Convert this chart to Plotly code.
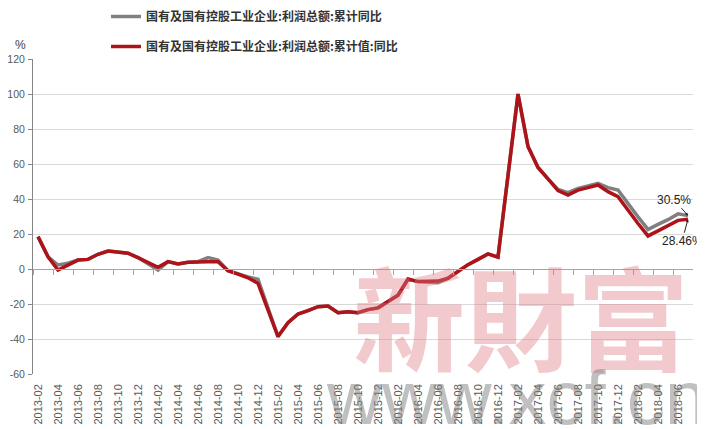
import plotly.graph_objects as go

months = [
    "2013-02", "2013-03", "2013-04", "2013-05", "2013-06", "2013-07", "2013-08", "2013-09", "2013-10", "2013-11", "2013-12",
    "2014-01", "2014-02", "2014-03", "2014-04", "2014-05", "2014-06", "2014-07", "2014-08", "2014-09", "2014-10", "2014-11", "2014-12",
    "2015-01", "2015-02", "2015-03", "2015-04", "2015-05", "2015-06", "2015-07", "2015-08", "2015-09", "2015-10", "2015-11", "2015-12",
    "2016-01", "2016-02", "2016-03", "2016-04", "2016-05", "2016-06", "2016-07", "2016-08", "2016-09", "2016-10", "2016-11", "2016-12",
    "2017-01", "2017-02", "2017-03", "2017-04", "2017-05", "2017-06", "2017-07", "2017-08", "2017-09", "2017-10", "2017-11", "2017-12",
    "2018-01", "2018-02", "2018-03", "2018-04", "2018-05", "2018-06", "2018-07",
]

# 国有及国有控股工业企业:利润总额:累计同比 (gray)
gray_vals = [
    18.5, 7.0, 2.3, 3.3, 5.1, 5.5, 8.4, 10.3, 9.7, 9.0, 6.5,
    None, -0.6, 4.2, 2.9, 3.8, 4.2, 6.5, 5.1, -1.0, -2.9, -4.5, -5.9,
    None, -38.6, -30.7, -25.7, -23.8, -21.5, -21.1, -25.0, -24.4, -25.0, -23.2, -22.2,
    None, -15.0, -5.7, -7.2, -7.5, -7.8, -5.3, -1.5, 2.5, 5.5, 8.6, 6.8,
    None, 100.0, 70.0, 58.0, 51.5, 45.5, 43.6, 46.1, 47.4, 49.0, 46.5, 45.1,
    None, 29.8, 22.6, 25.5, 28.2, 31.5, 30.5,
]

# 国有及国有控股工业企业:利润总额:累计值:同比 (red)
red_vals = [
    18.5, 7.0, -0.6, 2.3, 5.1, 5.5, 8.4, 10.3, 9.7, 9.0, 6.5,
    None, 1.0, 4.2, 2.9, 3.8, 4.2, 4.2, 4.2, -1.0, -2.9, -5.0, -8.2,
    None, -38.6, -30.7, -25.7, -23.8, -21.5, -21.1, -25.0, -24.4, -25.0, -23.2, -22.2,
    None, -15.0, -5.7, -7.2, -7.0, -6.9, -5.3, -1.5, 2.5, 5.5, 8.6, 6.8,
    None, 100.0, 70.0, 58.0, 51.5, 44.8, 42.3, 45.1, 46.5, 48.0, 44.2, 41.3,
    None, 26.0, 18.9, 21.8, 24.8, 27.8, 28.46,
]

y_ticks = [-60, -40, -20, 0, 20, 40, 60, 80, 100, 120]
y_ticktext = [str(v) for v in y_ticks]

gray_name = "国有及国有控股工业企业:利润总额:累计同比"
red_name = "国有及国有控股工业企业:利润总额:累计值:同比"

idx = list(range(len(months)))
label_idx = idx[::2]
label_txt = months[::2]
boundary_ticks = [i - 0.5 for i in label_idx]

fig = go.Figure()
fig.add_trace(go.Scatter(
    x=idx, y=gray_vals, mode="lines", name=gray_name, connectgaps=True,
    line=dict(color="#808080", width=3.5), legendgroup="g1", xaxis="x", yaxis="y",
))
fig.add_trace(go.Scatter(
    x=idx, y=red_vals, mode="lines", name=red_name, connectgaps=True,
    line=dict(color="#AE1319", width=3.5), legendgroup="g2", xaxis="x2", yaxis="y",
))

xr = [-0.5, len(months) - 0.5]
ylo, yhi = y_ticks[0], y_ticks[-1]

# the page body adds an 8px offset; plot area lands at screen x 33..693, y 59..374
fig.update_layout(
    width=697, height=421,
    margin=dict(l=25, r=12, t=51, b=55, autoexpand=False),
    paper_bgcolor="white", plot_bgcolor="white",
    font=dict(family="Liberation Sans, Arial, sans-serif", color="#595959"),
    showlegend=True,
    legend=dict(
        x=(106 - 33) / 660, xanchor="left",
        y=1 + (51 + 6) / 315, yanchor="top",
        font=dict(family="Noto Sans CJK SC", size=12, color="#333333", weight="bold"),
        tracegroupgap=11, bgcolor="rgba(0,0,0,0)",
    ),
    xaxis=dict(
        range=xr, showgrid=False, zeroline=False, showline=False, automargin=False,
        tickmode="array", tickvals=label_idx, ticktext=label_txt,
        tickangle=-90, ticks="", ticklabelstandoff=7,
        tickfont=dict(size=11, color="#595959"),
    ),
    xaxis2=dict(
        range=xr, overlaying="x", anchor="free", position=(0 - ylo) / (yhi - ylo),
        side="bottom", showgrid=False, zeroline=False, automargin=False,
        showline=True, linecolor="#A6A6A6", linewidth=1,
        tickmode="array", tickvals=boundary_ticks, ticks="outside", ticklen=5,
        tickcolor="#A6A6A6", showticklabels=False,
    ),
    yaxis=dict(
        range=[ylo, yhi], tickmode="array", tickvals=y_ticks, ticktext=y_ticktext,
        automargin=False,
        showgrid=True, gridcolor="#D9D9D9", gridwidth=1,
        zeroline=False, showline=True, linecolor="#868686", linewidth=1,
        ticks="outside", ticklen=4, tickcolor="#868686",
        ticklabelstandoff=1,
        tickfont=dict(size=10.5, color="#595959"),
    ),
)

annotations = [
    dict(text="%", xref="paper", yref="paper", x=(20 - 33) / 660, y=1 + (59 - 45) / 315,
         xanchor="center", yanchor="middle",
         showarrow=False, font=dict(size=12, color="#404040")),
    dict(text="30.5%", x=idx[-1], y=gray_vals[-1], xref="x", yref="y",
         showarrow=True, ax=-14, ay=-16, arrowhead=2, arrowsize=0.6, arrowwidth=1,
         arrowcolor="#222222", font=dict(size=12, color="#222222")),
    dict(text="28.46%", x=idx[-1], y=red_vals[-1], xref="x", yref="y",
         showarrow=True, ax=-6, ay=22, arrowhead=2, arrowsize=0.6, arrowwidth=1,
         arrowcolor="#222222", font=dict(size=12, color="#222222")),
    dict(text="新財富", xref="paper", yref="paper", x=(521 - 33) / 660, y=(374 - 314) / 315,
         xanchor="center", yanchor="middle",
         showarrow=False, font=dict(family="Noto Sans CJK TC", size=112, weight="bold",
                                    color="rgba(222,120,130,0.40)")),
    dict(text="www.xcf.cn", xref="paper", yref="paper", x=(516 - 33) / 660, y=(374 - 397) / 315,
         xanchor="center", yanchor="middle",
         showarrow=False, font=dict(family="Liberation Sans", size=76, color="rgba(130,130,130,0.5)")),
]
fig.update_layout(annotations=annotations)

fig.write_html("out.html")
